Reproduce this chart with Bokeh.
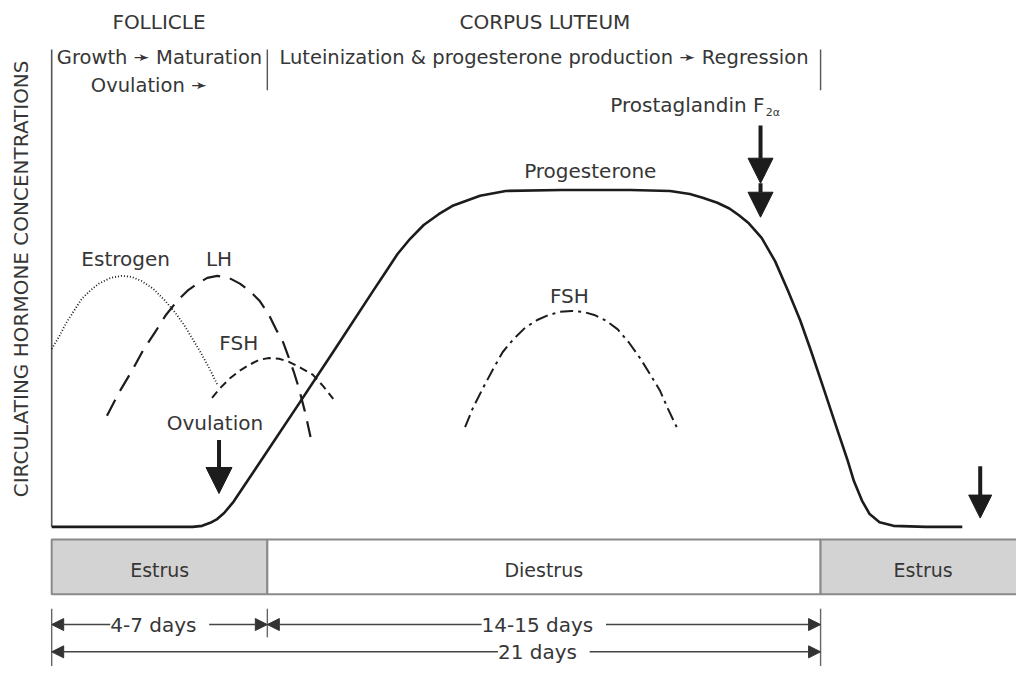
from bokeh.plotting import figure
from bokeh.models import Range1d, Label, Arrow, NormalHead, ColumnDataSource
from bokeh.core.properties import value
from bokeh.embed import file_html
from bokeh.resources import INLINE

# ---------------- data (x in days of the cycle, y in relative concentration) ----------
prog_day = [0.00, 2.64, 3.85, 4.11, 4.33, 4.52, 4.71, 4.97, 5.86, 6.75, 7.74, 8.77, 9.09,
            9.44, 9.79, 10.16, 10.57, 10.97, 11.70, 12.40, 13.93, 15.81, 16.89, 17.43, 17.78,
            18.18, 18.51, 18.77, 19.04, 19.39, 19.76, 20.11, 20.44, 20.73, 21.08, 21.46,
            21.73, 21.91, 22.13, 22.34, 22.61, 22.99, 23.88, 24.87]
prog_conc = [0, 0, 0, 0.3, 1.2, 2.3, 4.1, 7.5, 22.0, 36.5, 52.8, 69.9, 75.1, 80.9, 85.5,
             89.6, 92.8, 95.4, 98.3, 99.7, 100, 100, 99.7, 98.8, 97.7, 96.2, 94.5, 92.5,
             90.1, 85.8, 78.8, 70.1, 61.4, 52.5, 41.2, 28.7, 20.0, 13.6, 7.8, 3.8, 1.4,
             0.3, 0, 0]

estr_day = [0, 0.22, 0.40, 0.62, 0.83, 1.08, 1.29, 1.61, 1.91, 2.18, 2.45, 2.77, 3.09,
            3.36, 3.63, 3.84, 4.06, 4.30, 4.52]
estr_conc = [52.8, 56.8, 60.6, 64.3, 67.8, 70.4, 72.2, 73.9, 74.5, 74.2, 73.0, 70.7, 67.2,
             63.8, 59.7, 55.9, 51.9, 47.2, 42.3]

lh_day = [1.51, 1.83, 2.18, 2.50, 2.82, 3.12, 3.44, 3.71, 3.98, 4.25, 4.52, 4.84, 5.14,
          5.40, 5.67, 5.92, 6.13, 6.32, 6.45, 6.61, 6.75, 6.91, 7.07]
lh_conc = [33.0, 39.7, 46.1, 52.5, 57.7, 62.9, 67.2, 70.1, 72.2, 73.9, 74.5, 73.9, 72.2,
           70.1, 67.2, 63.2, 58.6, 54.8, 51.0, 46.1, 41.2, 34.5, 26.7]

fsh1_day = [4.38, 4.62, 4.87, 5.14, 5.40, 5.67, 5.94, 6.21, 6.48, 6.80, 7.13, 7.42, 7.69]
fsh1_conc = [38.3, 41.4, 44.1, 46.4, 48.1, 49.6, 50.1, 49.9, 49.0, 47.2, 45.2, 41.7, 38.0]

fsh2_day = [11.29, 11.51, 11.78, 12.05, 12.32, 12.61, 12.93, 13.26, 13.58, 13.87, 14.20,
            14.52, 14.82, 15.14, 15.46, 15.76, 16.08, 16.35, 16.62, 16.83, 17.07]
fsh2_conc = [29.6, 35.4, 41.2, 46.7, 51.9, 55.7, 59.1, 61.4, 62.9, 63.8, 64.1, 63.8, 62.9,
             61.2, 58.6, 54.8, 49.9, 45.2, 40.3, 35.1, 29.6]

curve_labels = ["Estrogen", "LH", "FSH", "FSH", "Progesterone", "Ovulation"]
curve_label_day = [2.02, 4.57, 5.11, 14.14, 14.71, 4.46]
curve_label_conc = [79.4, 79.4, 54.5, 68.4, 105.5, 30.7]

phase_names = ["Estrus", "Diestrus", "Estrus"]
phase_start = [0.0, 5.89, 21.0]
phase_end = [5.89, 21.0, 26.6]
phase_label_day = [2.95, 13.44, 23.8]
phase_fill = ["#d3d3d3", "#ffffff", "#d3d3d3"]

structure_names = ["FOLLICLE", "CORPUS LUTEUM"]
structure_day = [2.93, 13.47]

stage_text = ["Growth \u279b Maturation", "Luteinization & progesterone production \u279b Regression"]

duration_text = ["4-7 days", "14-15 days", "21 days"]
duration_start = [0.0, 5.89, 0.0]
duration_end = [5.89, 21.0, 21.0]
duration_label_day = [2.95, 13.44, 13.44]
duration_level = [-29.0, -29.0, -37.1]

# events marked by arrows: (day, top of shaft, tip)
ovulation_day, ovulation_top, ovulation_tip = 4.57, 25.8, 9.9
pgf_day, pgf_top, pgf_mid, pgf_tip = 19.36, 119.1, 102.0, 91.9
next_ovulation_day, next_top, next_tip = 25.36, 18.0, 2.6

# ---------------- figure ----------------
FONT = "DejaVu Sans"
TXT = "#363636"
INK = "#1c1c1c"

p = figure(width=1016, height=666, output_backend="svg", toolbar_location=None,
           x_range=Range1d(-1.398, 26.351), y_range=Range1d(-41.45, 156.23),
           x_axis_type=None, y_axis_type=None, min_border=0)
p.outline_line_color = None
p.grid.visible = False
p.background_fill_color = "white"


def lab(x, y, text, size, align="center", baseline="middle", angle=0, bg=None, color=TXT):
    l = Label(x=x, y=y, text=text, text_font=FONT, text_font_size=f"{size}px",
              text_align=align, text_baseline=baseline, angle=angle, text_color=color)
    if bg:
        l.background_fill_color = bg
    p.add_layout(l)


# left axis line + separators in the header row
p.segment(x0=[0.0], y0=[0.0], x1=[0.0], y1=[141.7], line_color="#555555", line_width=1.6)
p.segment(x0=[phase_start[1], phase_end[1]], y0=[129.6, 129.6],
          x1=[phase_start[1], phase_end[1]], y1=[141.7, 141.7],
          line_color="#555555", line_width=1.4)

# hormone curves
p.line(prog_day, prog_conc, line_color=INK, line_width=2.6, line_join="round")
p.line(estr_day, estr_conc, line_color=INK, line_width=1.8, line_dash="1 2")
p.line(lh_day, lh_conc, line_color=INK, line_width=2.2, line_dash="18 10")
p.line(fsh1_day, fsh1_conc, line_color=INK, line_width=2.0, line_dash="8 5")
p.line(fsh2_day, fsh2_conc, line_color=INK, line_width=2.0, line_dash="13 5 3 5")

src = ColumnDataSource(dict(x=curve_label_day, y=curve_label_conc, t=curve_labels))
p.text(x="x", y="y", text="t", source=src, text_font=value(FONT), text_font_size="20px",
       text_align="center", text_baseline="middle", text_color=TXT)

# phase boxes
p.quad(left=phase_start, right=phase_end, top=-3.77, bottom=-20.0, fill_color=phase_fill,
       line_color="#8a8a8a", line_width=2)
for n, d in zip(phase_names, phase_label_day):
    lab(d, -12.75, n, 19)

# duration ticks
p.segment(x0=[0.0, 5.89, 21.0], y0=[-24.3, -24.3, -24.3], x1=[0.0, 5.89, 21.0],
          y1=[-42.0, -32.8, -42.0], line_color="#666666", line_width=1.4)

# duration arrows
for s, e, yy in zip(duration_start, duration_end, duration_level):
    p.add_layout(Arrow(x_start=s, y_start=yy, x_end=e, y_end=yy, line_color="#444444",
                       line_width=1.5,
                       start=NormalHead(size=12, fill_color="#333333", line_color="#333333"),
                       end=NormalHead(size=12, fill_color="#333333", line_color="#333333")))
for t, d, yy in zip(duration_text, duration_label_day, duration_level):
    lab(d, yy, " " + t + " ", 20, bg="white")

# event arrows
p.add_layout(Arrow(x_start=ovulation_day, y_start=ovulation_top, x_end=ovulation_day,
                   y_end=ovulation_tip, line_color=INK, line_width=4,
                   end=NormalHead(size=26, fill_color=INK, line_color=INK)))
p.add_layout(Arrow(x_start=pgf_day, y_start=pgf_top, x_end=pgf_day, y_end=pgf_mid,
                   line_color=INK, line_width=4,
                   end=NormalHead(size=25, fill_color=INK, line_color=INK)))
p.add_layout(Arrow(x_start=pgf_day, y_start=pgf_mid, x_end=pgf_day, y_end=pgf_tip,
                   line_color=INK, line_width=4,
                   end=NormalHead(size=25, fill_color=INK, line_color=INK)))
p.add_layout(Arrow(x_start=next_ovulation_day, y_start=next_top, x_end=next_ovulation_day,
                   y_end=next_tip, line_color=INK, line_width=4,
                   end=NormalHead(size=23, fill_color=INK, line_color=INK)))

# header texts
for n, d in zip(structure_names, structure_day):
    lab(d, 149.9, n, 20)
lab((phase_start[0] + phase_end[0]) / 2, 139.4, stage_text[0], 19.5)
lab((phase_start[1] + phase_end[1]) / 2, 139.4, stage_text[1], 19.5)
lab(2.66, 131.0, "Ovulation \u279b", 19.5)
lab(19.47, 125.2, "Prostaglandin F", 20, align="right")
lab(19.50, 123.0, "2\u03b1", 11, align="left")

# y axis title
lab(-0.85, 73.6, "CIRCULATING HORMONE CONCENTRATIONS", 20, angle=1.5707963)

open("out.html", "w").write(file_html(p, INLINE))
